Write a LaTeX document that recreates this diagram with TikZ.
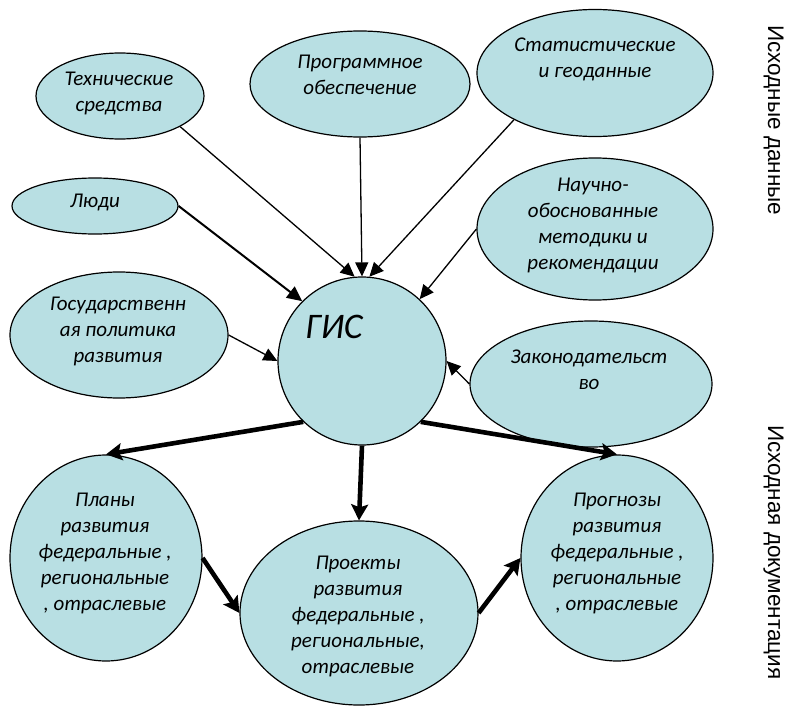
\documentclass[tikz,border=0pt]{standalone}
\usepackage{fontspec}
\setmainfont{Carlito}
\newfontfamily\sidefont{Liberation Sans}
\usetikzlibrary{shapes.geometric,arrows.meta}
\definecolor{fillc}{RGB}{184,223,227}
\tikzset{
  ell/.style 2 args={ellipse, draw=black, line width=1.2pt, fill=fillc, inner sep=0pt,
    minimum width=#1, minimum height=#2},
  txt/.style={align=center, inner sep=0pt, font=\fontsize{21}{26}\selectfont\itshape},
  thin arrow/.style={line width=1.3pt, -{Triangle[length=14pt,width=13pt]}},
  mid arrow/.style={line width=2pt, -{Triangle[length=15pt,width=14pt]}},
  thick arrow/.style={line width=4.6pt, -{Stealth[length=16pt,width=17pt,inset=3pt]}},
  side/.style={rotate=-90, anchor=base west, inner sep=0pt, font=\sidefont\fontsize{22.5}{26}\selectfont}
}
\begin{document}
\begin{tikzpicture}[x=1pt,y=-1pt]
\useasboundingbox (0,0) rectangle (788,709);
% ellipses
\node[ell={168pt}{86pt}]  (tech) at (120,96) {};
\node[ell={220pt}{106pt}] (prog) at (360,84) {};
\node[ell={236pt}{127pt}] (stat) at (595,73) {};
\node[ell={166pt}{56pt}]  (ppl)  at (95,206) {};
\node[ell={236pt}{142pt}] (sci)  at (595,229) {};
\node[ell={218pt}{126pt}] (gov)  at (119,335) {};
\node[ell={168pt}{168pt}] (gis)  at (362,361) {};
\node[ell={242pt}{126pt}] (law)  at (591,384) {};
\node[ell={192pt}{206pt}] (plan) at (106,558) {};
\node[ell={238pt}{184pt}] (proj) at (359,613) {};
\node[ell={192pt}{206pt}] (fore) at (617,558) {};
% texts
\node[txt] (ttech) at (119,93) {Технические\\средства};
\node[txt] (tprog) at (360,75) {Программное\\обеспечение};
\node[txt] (tstat) at (595,59) {Статистические\\и геоданные};
\node[txt] (tppl)  at (95,202) {Люди};
\node[txt] (tsci)  at (593,225) {Научно-\\обоснованные\\методики и\\рекомендации};
\node[txt] (tgov)  at (118,331) {Государственн\\ая политика\\развития};
\node[inner sep=0pt, font=\fontsize{36}{40}\selectfont\itshape] (tgis) at (334,327) {ГИС};
\node[txt] (tlaw)  at (589,370) {Законодательст\\во};
\node[txt] (tplan) at (105,553) {Планы\\развития\\федеральные ,\\региональные\\, отраслевые};
\node[txt] (tproj) at (358,616) {Проекты\\развития\\федеральные ,\\региональные,\\отраслевые};
\node[txt] (tfore) at (617,553) {Прогнозы\\развития\\федеральные ,\\региональные\\, отраслевые};
% side labels
\node[side] (s1) at (768,25) {Исходные данные};
\node[side] (s2) at (768,425) {Исходная документация};
% arrows in
\draw[thin arrow] (tech.-27) -- (gis.95);
\draw[thin arrow] (prog.south) -- (gis.north);
\draw[thin arrow] (stat.-150) -- (gis.85);
\draw[mid arrow] (ppl.east) -- (gis.135);
\draw[thin arrow] (sci.west) -- (gis.47);
\draw[thin arrow] (gov.east) -- (gis.west);
\draw[thin arrow] (law.west) -- (gis.east);
% arrows out
\draw[thick arrow] (gis.-134) -- (plan.north);
\draw[thick arrow] (gis.south) -- (proj.north);
\draw[thick arrow] (gis.-46) -- (fore.north);
\draw[thick arrow] (plan.east) -- (proj.west);
\draw[thick arrow] (proj.east) -- (fore.west);
\end{tikzpicture}
\end{document}
